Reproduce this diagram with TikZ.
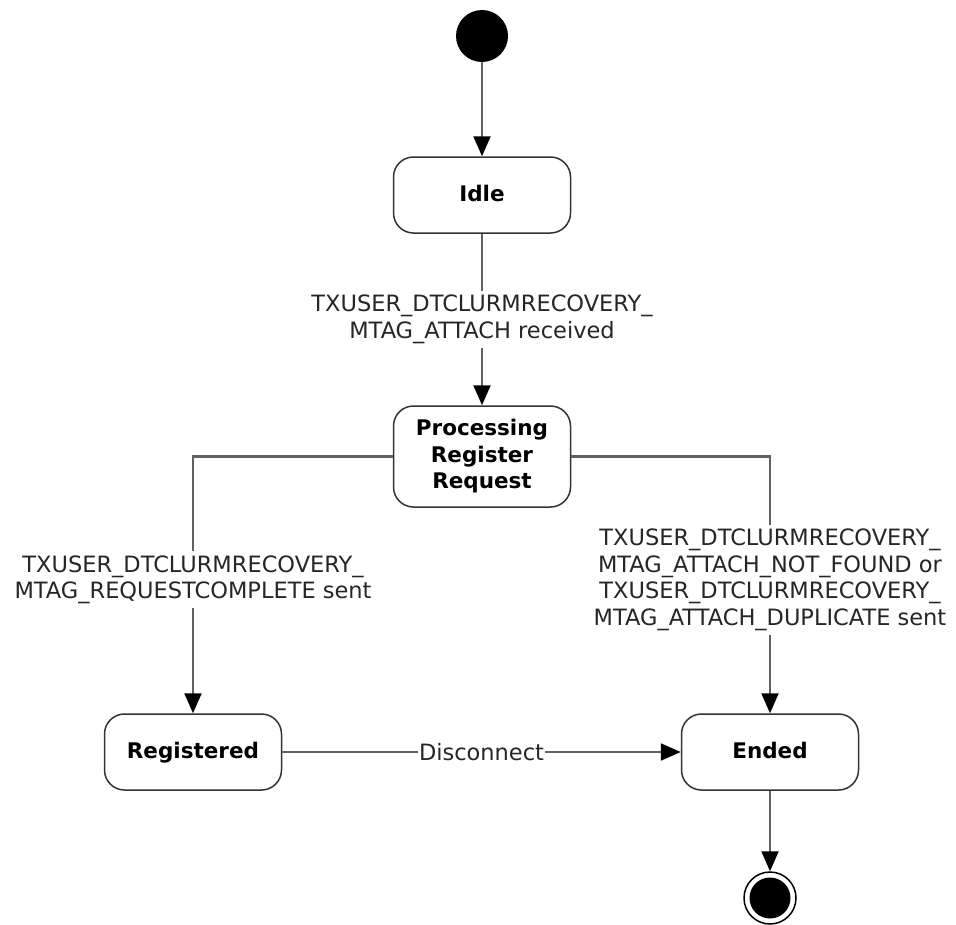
\documentclass[tikz,border=0pt]{standalone}
\usepackage{fontspec}
\setmainfont{DejaVu Sans}
\usetikzlibrary{arrows.meta}
\begin{document}
\begin{tikzpicture}[x=1pt,y=-1pt,
  state/.style={draw=black!80, line width=1.5pt, rounded corners=20pt, fill=white, minimum width=177pt, font=\bfseries\fontsize{21.5}{26.5}\selectfont, align=center, inner sep=0pt},
  onestate/.style={state, minimum height=76pt, text height=16pt, text depth=4pt},
  trans/.style={draw=black!62, line width=2.2pt, -{Triangle[length=20pt,width=17pt,color=black]}},
  lbl/.style={fill=white, text=black!85, font=\fontsize{22.5}{26.5}\selectfont, align=center, inner sep=4pt}]
\useasboundingbox (0,0) rectangle (956,924);
\node[circle, fill=black, minimum size=52pt, inner sep=0pt] (init) at (482,36) {};
\node[onestate] (idle) at (482,195) {Idle};
\node[state, minimum height=101pt] (proc) at (482,456.5) {Processing\\Register\\Request};
\node[onestate] (reg) at (193,752) {Registered};
\node[onestate] (ended) at (770,752) {Ended};
\node[circle, draw=black, line width=1.5pt, minimum size=52pt, inner sep=0pt] (fin) at (770,898) {};
\node[circle, fill=black, minimum size=41pt, inner sep=0pt] (finin) at (fin) {};
\draw[trans] (init) -- (idle);
\draw[trans] (idle) -- node[lbl]{TXUSER\_DTCLURMRECOVERY\_\\MTAG\_ATTACH received} (proc);
\draw[trans] (proc.west) -- (proc.west -| reg.north) -- node[lbl, pos=0.48]{TXUSER\_DTCLURMRECOVERY\_\\MTAG\_REQUESTCOMPLETE sent} (reg.north);
\draw[trans] (proc.east) -- (proc.east -| ended.north) -- node[lbl, pos=0.48]{TXUSER\_DTCLURMRECOVERY\_\\MTAG\_ATTACH\_NOT\_FOUND or\\TXUSER\_DTCLURMRECOVERY\_\\MTAG\_ATTACH\_DUPLICATE sent} (ended.north);
\draw[trans] (reg) -- node[lbl, inner sep=1pt]{Disconnect} (ended);
\draw[trans] (ended) -- (fin);
\end{tikzpicture}
\end{document}
